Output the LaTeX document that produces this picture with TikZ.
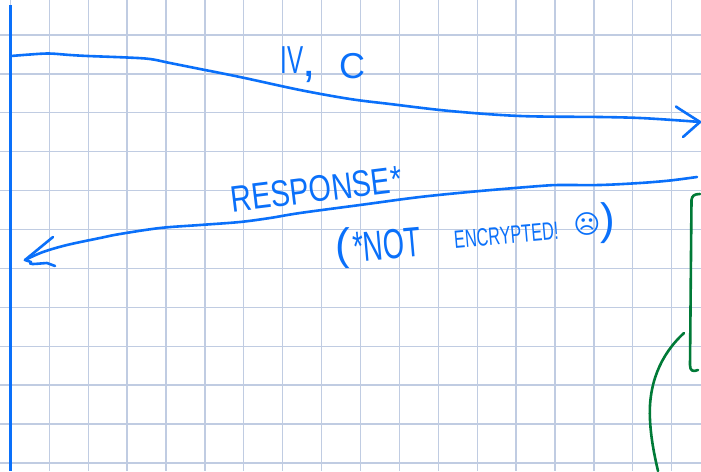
\documentclass[tikz,border=0pt]{standalone}
\usepackage{fontspec}
\setmainfont{Liberation Sans}
\newfontfamily\symf{DejaVu Sans}
\definecolor{gridc}{RGB}{192,204,226}
\definecolor{penblue}{RGB}{10,112,250}
\definecolor{pengreen}{RGB}{0,122,55}
\tikzset{
  gridline/.style={draw=gridc,line width=1.3pt},
  ink/.style={draw=penblue,line width=2.6pt,line cap=round,line join=round},
  greenink/.style={draw=pengreen,line width=2.6pt,line cap=round,line join=round},
  hand/.style={text=penblue,inner sep=0pt},
}
\begin{document}
\begin{tikzpicture}[x=1pt,y=-1pt]
\useasboundingbox (0,0) rectangle (701,471);
\fill[white] (0,0) rectangle (701,471);
% grid
\foreach \k in {0,...,17} {\draw[gridline] ({10.4+38.9*\k},0) -- ({10.4+38.9*\k},471);}
\foreach \k in {0,...,11} {\draw[gridline] (0,{35+38.9*\k}) -- (701,{35+38.9*\k});}
% left timeline
\coordinate (lt) at (10.5,5);
\coordinate (lb) at (10.5,471);
\draw[ink,line cap=butt] (lt) -- (lb);
% top arrow: IV, C
\coordinate (ivs) at (11,56);
\coordinate (ive) at (700,122);
\draw[ink] plot[smooth,tension=0.55] coordinates {(ivs) (30,54.5) (49,53.5) (70,55) (88,56) (127,57.5) (150,59) (170,63) (200,69) (240,77) (300,90) (350,99) (390,104) (450,111) (520,116) (600,117) (640,118) (680,120.5) (ive)};
\coordinate (ivb1) at (678,108);
\coordinate (ivb2) at (683,137);
\draw[ink] (676,106.5) -- (ivb1) -- (ive) -- (ivb2);
\node[hand,font=\fontsize{39}{39}\selectfont,xscale=0.62,anchor=base] (iv) at (292,73) {IV};
\node[hand,font=\fontsize{48}{48}\selectfont,anchor=base] (comma) at (309,76) {,};
\node[hand,font=\fontsize{36}{36}\selectfont,anchor=base] (c) at (352,78) {C};
% bottom arrow: response
\coordinate (rs) at (697,177);
\coordinate (re) at (25,260);
\draw[ink] plot[smooth,tension=0.55] coordinates {(rs) (670,180.5) (640,183) (600,185) (560,185) (540,186) (480,191) (420,197) (360,205) (300,213) (270,218) (240,222) (200,225) (160,228) (120,234) (100,238) (67,245) (43,252) (re)};
\coordinate (rb1) at (53,237);
\coordinate (rb2) at (55,266);
\draw[ink] (rb1) -- (re) -- (31,262) .. controls (28,265) and (33,264) .. (47,263) -- (rb2);
\node[hand,font=\fontsize{37}{37}\selectfont,rotate=7,xscale=0.78,anchor=base] (resp) at (318,202) {RESPONSE*};
\node[hand,font=\fontsize{44}{44}\selectfont,anchor=center] (lp) at (343,248) {(};
\node[hand,font=\fontsize{42}{42}\selectfont,rotate=5,xscale=0.65,anchor=base] (not) at (388,259) {*NOT};
\node[hand,font=\fontsize{25}{25}\selectfont,rotate=5,xscale=0.65,anchor=base] (enc) at (507,244) {ENCRYPTED!};
\node[hand,font=\symf\fontsize{26}{26}\selectfont,anchor=center] (face) at (587,224) {☹};
\node[hand,font=\fontsize{44}{44}\selectfont,anchor=center] (rp) at (608,223) {)};
% green marks
\coordinate (gbt) at (700,194);
\coordinate (gbb) at (698,370);
\draw[greenink] (gbt) .. controls (694,194) and (692,196) .. (691.5,200) -- (690,365) .. controls (690,371) and (693,372) .. (gbb);
\coordinate (gcs) at (684,333);
\coordinate (gce) at (658,471);
\draw[greenink] (gcs) .. controls (660,355) and (648,385) .. (650,420) .. controls (651,440) and (655,458) .. (gce);
\end{tikzpicture}
\end{document}
